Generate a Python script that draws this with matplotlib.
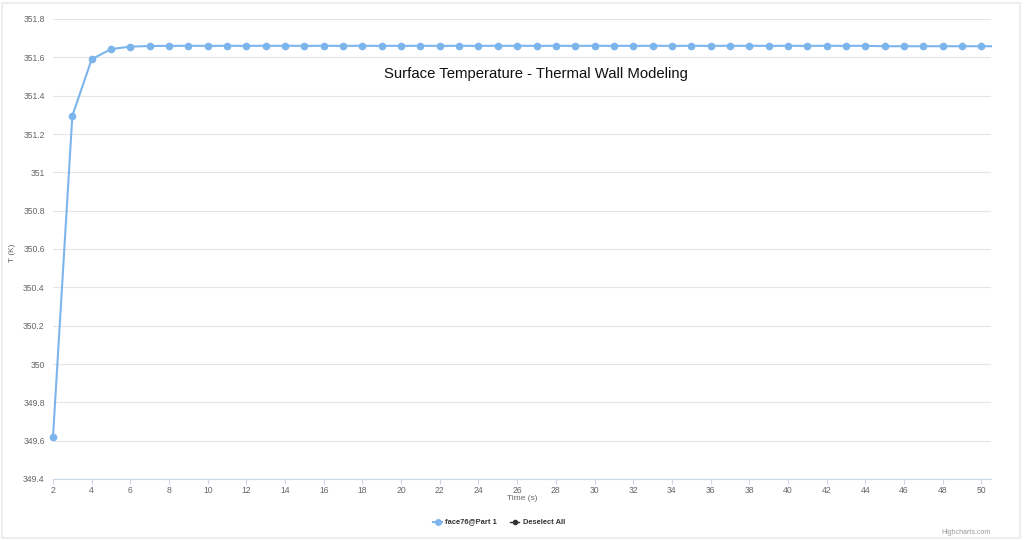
import matplotlib
matplotlib.use('Agg')
import matplotlib.pyplot as plt
import numpy as np

plt.rcParams['font.family'] = ['Liberation Sans', 'DejaVu Sans']

# data
time_s = [2, 3, 4, 5, 6, 7, 8, 9, 10, 11, 12, 13, 14, 15, 16, 17, 18, 19, 20,
          21, 22, 23, 24, 25, 26, 27, 28, 29, 30, 31, 32, 33, 34, 35, 36, 37,
          38, 39, 40, 41, 42, 43, 44, 45, 46, 47, 48, 49, 50, 50.5]
temp_k = [349.62, 351.295, 351.59, 351.643, 351.656, 351.659, 351.66, 351.66,
          351.66, 351.66, 351.66, 351.66, 351.66, 351.66, 351.66, 351.66,
          351.66, 351.66, 351.66, 351.66, 351.66, 351.66, 351.66, 351.66,
          351.66, 351.66, 351.66, 351.66, 351.66, 351.66, 351.66, 351.66,
          351.66, 351.66, 351.66, 351.66, 351.66, 351.66, 351.66, 351.66,
          351.66, 351.66, 351.66, 351.658, 351.658, 351.658, 351.658,
          351.658, 351.658, 351.658]
yticks = [349.4, 349.6, 349.8, 350, 350.2, 350.4, 350.6, 350.8, 351,
          351.2, 351.4, 351.6, 351.8]
ytick_labels = ['349.4', '349.6', '349.8', '350', '350.2', '350.4', '350.6',
                '350.8', '351', '351.2', '351.4', '351.6', '351.8']
xticks = list(range(2, 51, 2))

blue = '#7cb5ec'
txt = '#666666'
W, H = 1024, 540

fig = plt.figure(figsize=(10.24, 5.4), dpi=100)
ax = fig.add_axes([53/W, 1 - 479/H, (991 - 53)/W, (479 - 19)/H])

ax.plot(time_s, temp_k, color=blue, lw=1.5, marker='o', ms=4.5,
        markevery=list(range(len(time_s) - 1)), zorder=3, clip_on=False)

ax.set_xlim(2, 50.5)
ax.set_ylim(349.4, 351.8)
ax.set_yticks(yticks)
ax.set_yticklabels(ytick_labels)
ax.set_xticks(xticks)
ax.grid(axis='y', color='#e6e6e6', lw=0.8)
ax.set_axisbelow(True)
for s in ['top', 'right', 'left']:
    ax.spines[s].set_visible(False)
ax.spines['bottom'].set_color('#ccd6eb')
ax.tick_params(axis='y', length=0, labelsize=6.2, labelcolor=txt, pad=6)
ax.tick_params(axis='x', length=3.5, color='#ccd6eb', labelsize=6.2,
               labelcolor=txt, pad=1.5)

ax.text(536/W, 1 - 74/H, 'Surface Temperature - Thermal Wall Modeling',
        transform=fig.transFigure, ha='center', va='center', fontsize=10.7,
        color='#111111')

fig.text(13/W, 1 - 253/H, 'T (K)', rotation=90, ha='center',
         va='center', fontsize=6, color=txt)
fig.text(522/W, 1 - 499/H, 'Time (s)', ha='center', va='center',
         fontsize=6, color=txt)

# legend drawn as lines + text, in pixel positions
ly = 1 - 522/H
fig.add_artist(plt.Line2D([433/W, 442/W], [ly, ly], transform=fig.transFigure,
                          color=blue, lw=1.5))
fig.add_artist(plt.Line2D([437.5/W], [ly], transform=fig.transFigure,
                          color=blue, marker='o', ms=4))
fig.text(445/W, ly, 'face76@Part 1', ha='left', va='center',
         fontsize=5.4, color='#333333', fontweight='bold')
fig.add_artist(plt.Line2D([510/W, 519/W], [ly, ly], transform=fig.transFigure,
                          color='#333333', lw=1))
fig.add_artist(plt.Line2D([514.5/W], [ly], transform=fig.transFigure,
                          color='#333333', marker='o', ms=3))
fig.text(523/W, ly, 'Deselect All', ha='left', va='center',
         fontsize=5.4, color='#333333', fontweight='bold')

fig.text(991/W, 1 - 533/H, 'Highcharts.com', ha='right', va='center',
         fontsize=5, color='#999999')

# faint frame around the picture
fig.add_artist(plt.Rectangle((0.002, 0.004), 0.994, 0.99,
                             transform=fig.transFigure, fill=False,
                             ec='#eeeeee', lw=1.5))

fig.savefig('out.png', dpi=100)
